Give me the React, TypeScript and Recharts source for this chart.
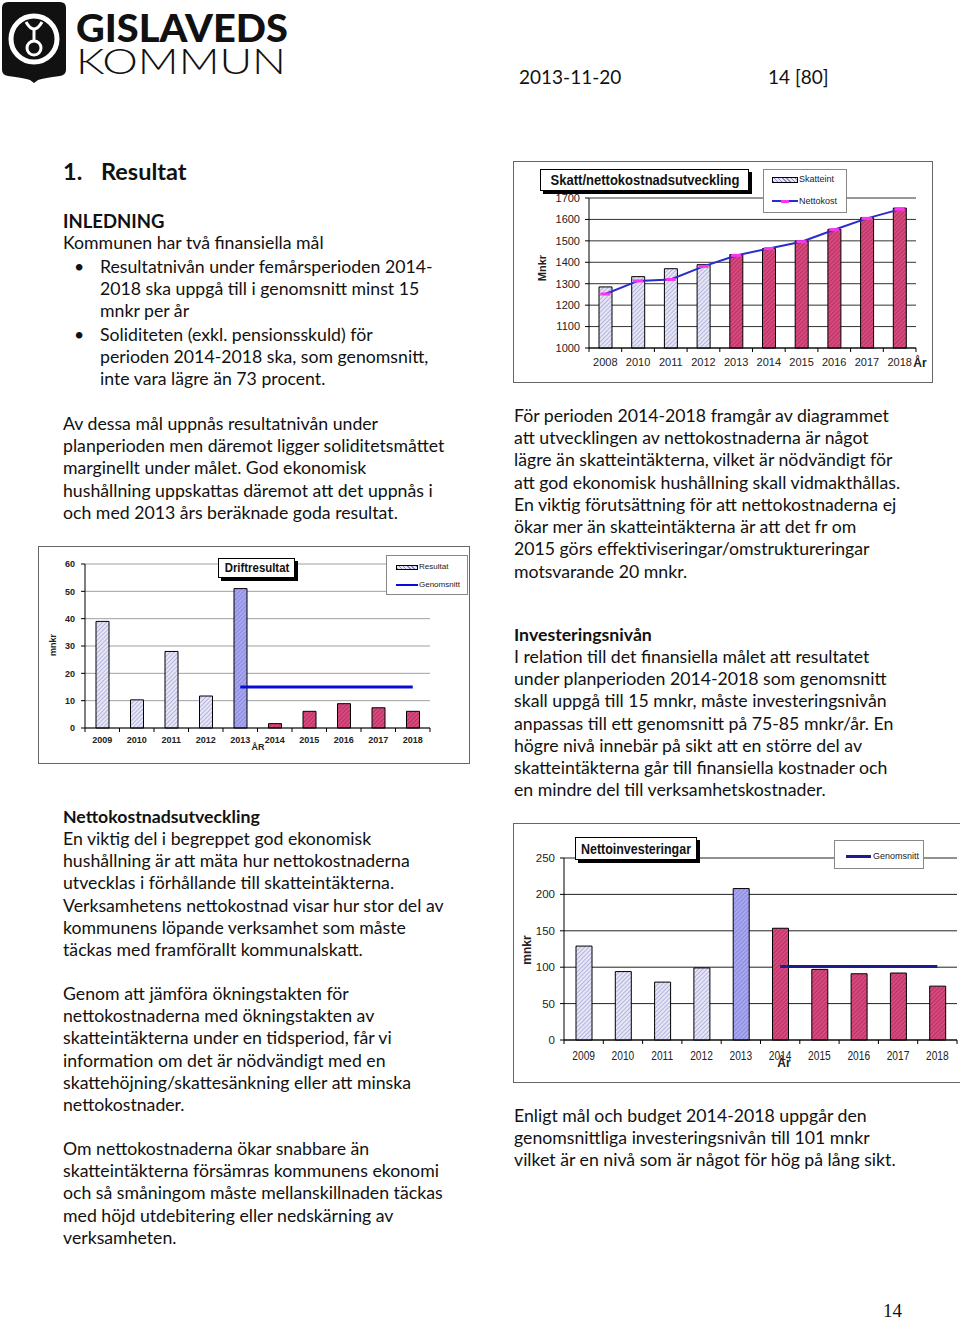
import React from 'react';
import { ComposedChart, Bar, Line, XAxis, YAxis, CartesianGrid, Cell } from 'recharts';

// ---------- DATA ----------
const skattYears = ['2008', '2010', '2011', '2012', '2013', '2014', '2015', '2016', '2017', '2018'];
const skatteint = [1285, 1333, 1370, 1389, 1436, 1464, 1499, 1554, 1608, 1653];
const nettokost = [1252, 1313, 1320, 1381, 1432, 1464, 1496, 1552, 1605, 1647];
const skattKind = ['utfall', 'utfall', 'utfall', 'utfall', 'budget', 'budget', 'budget', 'budget', 'budget', 'budget'];
const skattTicks = [1000, 1100, 1200, 1300, 1400, 1500, 1600, 1700];

const driftYears = ['2009', '2010', '2011', '2012', '2013', '2014', '2015', '2016', '2017', '2018'];
const driftResultat = [39, 10.3, 28, 11.7, 51, 1.6, 6.1, 8.9, 7.4, 6.1];
const driftSnitt = [null, null, null, null, 15, 15, 15, 15, 15, 15];
const driftKind = ['utfall', 'utfall', 'utfall', 'utfall', 'prognos', 'budget', 'budget', 'budget', 'budget', 'budget'];
const driftTicks = [0, 10, 20, 30, 40, 50, 60];

const invYears = ['2009', '2010', '2011', '2012', '2013', '2014', '2015', '2016', '2017', '2018'];
const nettoinvest = [129, 94, 79.5, 99, 208, 153.5, 97, 91, 92, 74];
const invSnitt = [null, null, null, null, null, 101, 101, 101, 101, 101];
const invKind = ['utfall', 'utfall', 'utfall', 'utfall', 'prognos', 'budget', 'budget', 'budget', 'budget', 'budget'];
const invTicks = [0, 50, 100, 150, 200, 250];

const skattData = skattYears.map((year, i) => ({ year, skatteint: skatteint[i], nettokost: nettokost[i], kind: skattKind[i] }));
const driftData = driftYears.map((year, i) => ({ year, resultat: driftResultat[i], snitt: driftSnitt[i], kind: driftKind[i] }));
const invData = invYears.map((year, i) => ({ year, invest: nettoinvest[i], snitt: invSnitt[i], kind: invKind[i] }));

// ---------- STYLE ----------
const CF = "'Liberation Sans', Arial, sans-serif";
const TF = "Lato, 'Open Sans', sans-serif";
const FS = 17.7;

const Patterns = ({ p }: { p: string }) => (
  <defs>
    <pattern id={`${p}-utfall`} width="3" height="3" patternUnits="userSpaceOnUse" patternTransform="rotate(45)">
      <rect width="3" height="3" fill="#e6e6f7" />
      <line x1="0" y1="0" x2="0" y2="3" stroke="#8c8cc8" strokeWidth="1.1" />
    </pattern>
    <pattern id={`${p}-prognos`} width="3" height="3" patternUnits="userSpaceOnUse" patternTransform="rotate(45)">
      <rect width="3" height="3" fill="#a8a8f0" />
      <line x1="0" y1="0" x2="0" y2="3" stroke="#7070d0" strokeWidth="1.1" />
    </pattern>
    <pattern id={`${p}-budget`} width="3" height="3" patternUnits="userSpaceOnUse" patternTransform="rotate(45)">
      <rect width="3" height="3" fill="#d84a7e" />
      <line x1="0" y1="0" x2="0" y2="3" stroke="#9a1f50" strokeWidth="1.1" />
    </pattern>
  </defs>
);

function makeXTick(band: number, fontSize: number, bold: boolean, offset: number, tickLen: number, sx: number) {
  return (props: any) => {
    const { x, y, payload, index } = props;
    return (
      <g>
        {tickLen > 0 && (
          <line x1={x + band / 2} x2={x + band / 2} y1={y - offset} y2={y - offset + tickLen} stroke="#000" />
        )}
        {tickLen > 0 && index === 0 && (
          <line x1={x - band / 2} x2={x - band / 2} y1={y - offset} y2={y - offset + tickLen} stroke="#000" />
        )}
        <text x={x} y={y} dy="0.71em" textAnchor="middle" fontSize={fontSize} fontWeight={bold ? 700 : 400} fill="#222" fontFamily={CF}
          transform={sx !== 1 ? `translate(${x} 0) scale(${sx} 1) translate(${-x} 0)` : undefined}>
          {payload.value}
        </text>
      </g>
    );
  };
}

const NettoDot = (props: any) => {
  const { cx, cy, index } = props;
  if (cx == null || cy == null) return <g key={index} />;
  return <rect key={index} x={cx - 5} y={cy - 1.5} width={10} height={3} fill="#ff33ee" />;
};

const abs = (left: number, top: number, extra: React.CSSProperties = {}): React.CSSProperties => ({
  position: 'absolute', left, top, ...extra,
});

const TitleBox = ({ left, top, width, height, text, fontSize, sx }: any) => (
  <div style={abs(left, top, {
    width, height, background: '#fff', border: '1px solid #000', boxShadow: '3px 3px 0 #000',
    fontFamily: CF, fontWeight: 700, fontSize, lineHeight: `${height}px`, color: '#111', whiteSpace: 'nowrap',
  })}>
    <span style={{ position: 'absolute', left: '50%', top: 0, transform: `translateX(-50%) scaleX(${sx})`, transformOrigin: 'center' }}>{text}</span>
  </div>
);

const RotLabel = ({ cx, cy, text, fontSize }: any) => (
  <div style={abs(cx - 30, cy - 8, {
    width: 60, height: 16, lineHeight: '16px', textAlign: 'center', transform: 'rotate(-90deg)',
    fontFamily: CF, fontWeight: 700, fontSize, color: '#222',
  })}>{text}</div>
);

const CenterLabel = ({ cx, cy, text, fontSize }: any) => (
  <div style={abs(cx - 20, cy - 8, {
    width: 40, height: 16, lineHeight: '16px', textAlign: 'center', fontFamily: CF, fontWeight: 700, fontSize, color: '#222',
  })}>{text}</div>
);

// ---------- CHARTS ----------
const SkattChart = () => {
  const W = 420, H = 222;
  const m = { top: 37, right: 17, bottom: 15, left: 36 };
  const yW = 40;
  const band = (W - m.left - m.right - yW) / skattData.length;
  return (
    <div style={abs(513, 161, { width: W, height: H })}>
      <div style={abs(0, 0, { width: W, height: H, border: '1px solid #666', boxSizing: 'border-box' })} />
      <div style={abs(0, 0)}>
        <ComposedChart width={W} height={H} data={skattData} margin={m}>
          <Patterns p="sk" />
          <CartesianGrid vertical={false} stroke="#333" strokeWidth={1} />
          <XAxis dataKey="year" height={20} axisLine={{ stroke: '#000' }} tickLine={false} tickSize={4} tickMargin={6}
            interval={0} tick={makeXTick(band, 11, false, 10, 4, 1)} />
          <YAxis width={yW} domain={[1000, 1700]} ticks={skattTicks} axisLine={{ stroke: '#000' }} tickLine={{ stroke: '#000' }}
            tickSize={4} tickMargin={5} tick={{ fontSize: 11, fill: '#222', fontFamily: CF }} interval={0} />
          <Bar dataKey="skatteint" barSize={13} stroke="#000" strokeWidth={1} isAnimationActive={false}>
            {skattData.map((d, i) => <Cell key={i} fill={`url(#sk-${d.kind})`} />)}
          </Bar>
          <Line dataKey="nettokost" stroke="#2a2ad0" strokeWidth={2} dot={NettoDot} activeDot={false} isAnimationActive={false} />
        </ComposedChart>
      </div>
      <TitleBox left={27} top={8} width={207} height={20} text="Skatt/nettokostnadsutveckling" fontSize={14} sx={0.93} />
      <div style={abs(250, 8, { width: 84, height: 44, background: '#fff', border: '1px solid #888', boxSizing: 'border-box' })}>
        <div style={abs(8, 7, { width: 26, height: 6, background: 'repeating-linear-gradient(45deg,#8c8cc8 0 1px,#e6e6f7 1px 3px)', border: '1px solid #000', boxSizing: 'border-box' })} />
        <div style={abs(35, 3, { fontFamily: CF, fontSize: 9, color: '#222', lineHeight: '12px' })}>Skatteint</div>
        <div style={abs(8, 30, { width: 26, height: 2, background: '#2a2ad0' })} />
        <div style={abs(17, 29.5, { width: 8, height: 3, background: '#ff33ee' })} />
        <div style={abs(35, 25, { fontFamily: CF, fontSize: 9, color: '#222', lineHeight: '12px' })}>Nettokost</div>
      </div>
      <RotLabel cx={29} cy={107} text="Mnkr" fontSize={11} />
      <CenterLabel cx={407} cy={202} text="År" fontSize={12} />
    </div>
  );
};

const DriftChart = () => {
  const W = 432, H = 218;
  const m = { top: 18, right: 40, bottom: 16, left: 17 };
  const yW = 30;
  const band = (W - m.left - m.right - yW) / driftData.length;
  return (
    <div style={abs(38, 546, { width: W, height: H })}>
      <div style={abs(0, 0, { width: W, height: H, border: '1px solid #666', boxSizing: 'border-box' })} />
      <div style={abs(0, 0)}>
        <ComposedChart width={W} height={H} data={driftData} margin={m}>
          <Patterns p="dr" />
          <CartesianGrid vertical={false} stroke="#a0a0a0" strokeWidth={1} />
          <XAxis dataKey="year" height={20} axisLine={{ stroke: '#000' }} tickLine={false} tickSize={4} tickMargin={5}
            interval={0} tick={makeXTick(band, 9, true, 9, 4, 1)} />
          <YAxis width={yW} domain={[0, 60]} ticks={driftTicks} axisLine={{ stroke: '#000' }} tickLine={{ stroke: '#000' }}
            tickSize={4} tickMargin={6} tick={{ fontSize: 9, fill: '#222', fontFamily: CF, fontWeight: 700 }} interval={0} />
          <Bar dataKey="resultat" barSize={13} stroke="#000" strokeWidth={1} isAnimationActive={false}>
            {driftData.map((d, i) => <Cell key={i} fill={`url(#dr-${d.kind})`} />)}
          </Bar>
          <Line dataKey="snitt" stroke="#0a0ad8" strokeWidth={3} dot={false} activeDot={false} isAnimationActive={false} />
        </ComposedChart>
      </div>
      <TitleBox left={180} top={12} width={75} height={18} text="Driftresultat" fontSize={12} sx={0.95} />
      <div style={abs(348, 9, { width: 82, height: 40, background: '#fff', border: '1px solid #888', boxSizing: 'border-box' })}>
        <div style={abs(9, 9, { width: 22, height: 5, background: 'repeating-linear-gradient(45deg,#8c8cc8 0 1px,#e6e6f7 1px 3px)', border: '1px solid #000', boxSizing: 'border-box' })} />
        <div style={abs(32, 5, { fontFamily: CF, fontSize: 8, color: '#222', lineHeight: '11px' })}>Resultat</div>
        <div style={abs(9, 28, { width: 22, height: 2, background: '#0a0ad8' })} />
        <div style={abs(32, 23, { fontFamily: CF, fontSize: 8, color: '#222', lineHeight: '11px' })}>Genomsnitt</div>
      </div>
      <RotLabel cx={15} cy={99} text="mnkr" fontSize={9} />
      <CenterLabel cx={220} cy={201} text="ÅR" fontSize={9} />
    </div>
  );
};

const InvChart = () => {
  const W = 450, H = 260;
  const m = { top: 35, right: 6, bottom: 18, left: 15 };
  const yW = 36;
  const band = (W - m.left - m.right - yW) / invData.length;
  return (
    <div style={abs(513, 823, { width: W, height: H })}>
      <div style={abs(0, 0, { width: W, height: H, border: '1px solid #666', boxSizing: 'border-box' })} />
      <div style={abs(0, 0)}>
        <ComposedChart width={W} height={H} data={invData} margin={m}>
          <Patterns p="iv" />
          <CartesianGrid vertical={false} stroke="#222" strokeWidth={1} />
          <XAxis dataKey="year" height={25} axisLine={{ stroke: '#000' }} tickLine={false} tickSize={4} tickMargin={7}
            interval={0} tick={makeXTick(band, 12, false, 11, 4, 0.85)} />
          <YAxis width={yW} domain={[0, 250]} ticks={invTicks} axisLine={{ stroke: '#000' }} tickLine={{ stroke: '#000' }}
            tickSize={4} tickMargin={5} tick={{ fontSize: 11.5, fill: '#222', fontFamily: CF }} interval={0} />
          <Bar dataKey="invest" barSize={16} stroke="#000" strokeWidth={1} isAnimationActive={false}>
            {invData.map((d, i) => <Cell key={i} fill={`url(#iv-${d.kind})`} />)}
          </Bar>
          <Line dataKey="snitt" stroke="#1c1c8a" strokeWidth={3} dot={false} activeDot={false} isAnimationActive={false} />
        </ComposedChart>
      </div>
      <TitleBox left={62} top={14} width={120} height={21} text="Nettoinvesteringar" fontSize={15} sx={0.83} />
      <div style={abs(321, 17, { width: 90, height: 29, background: '#fff', border: '1px solid #888', boxSizing: 'border-box' })}>
        <div style={abs(11, 14, { width: 25, height: 2.5, background: '#1c1c8a' })} />
        <div style={abs(38, 9, { fontFamily: CF, fontSize: 9, color: '#222', lineHeight: '12px' })}>Genomsnitt</div>
      </div>
      <RotLabel cx={14} cy={127} text="mnkr" fontSize={12} />
      <CenterLabel cx={271} cy={240} text="År" fontSize={12} />
    </div>
  );
};

// ---------- TEXT ----------
const LH = 22.25;
const Para = ({ x, y, lines, bold = false, size = FS }: any) => (
  <div style={abs(x, y - LH / 2, { lineHeight: `${LH}px`, fontSize: size, fontWeight: bold ? 700 : 400, whiteSpace: 'nowrap', color: '#111' })}>
    {lines.map((l: string, i: number) => <div key={i}>{l}</div>)}
  </div>
);

const Bullet = ({ y, lines }: any) => (
  <>
    <div style={abs(74, y - LH / 2, { lineHeight: `${LH}px`, fontSize: FS })}>•</div>
    <Para x={100} y={y} lines={lines} />
  </>
);

const Logo = () => (
  <svg width={300} height={90} style={abs(0, 0)}>
    <path d="M8 2 H60 Q66 2 66 8 V70 Q66 75 60 76 Q44 78 38 80 L34 83 L30 80 Q24 78 8 76 Q2 75 2 70 V8 Q2 2 8 2 Z" fill="#111" />
    <circle cx={34} cy={39} r={23} fill="none" stroke="#fff" strokeWidth={5} />
    <circle cx={34} cy={48} r={7} fill="none" stroke="#fff" strokeWidth={3} />
    <line x1={34} y1={30} x2={34} y2={41} stroke="#fff" strokeWidth={3} />
    <path d="M26 22 Q34 36 42 22" fill="none" stroke="#fff" strokeWidth={3} />
    <text fontFamily="Lato, sans-serif" fill="#111">
      <tspan x={76} y={42} fontWeight={900} fontSize={38} textLength={212} lengthAdjust="spacingAndGlyphs">GISLAVEDS</tspan>
      <tspan x={76} y={74} fontWeight={300} fontSize={36} textLength={210} lengthAdjust="spacingAndGlyphs">KOMMUN</tspan>
    </text>
  </svg>
);

export default function App() {
  return (
    <div style={{ position: 'absolute', left: 0, top: 0, width: 960, height: 1321, background: '#fff', overflow: 'hidden', fontFamily: TF, color: '#111' }}>
      <Logo />
      <div style={abs(519, 66, { fontSize: 19, lineHeight: '22px' })}>2013-11-20</div>
      <div style={abs(768, 66, { fontSize: 19, lineHeight: '22px' })}>14 [80]</div>

      <div style={abs(63, 157, { fontSize: 23.5, fontWeight: 700, lineHeight: '28px' })}>1.</div>
      <div style={abs(101, 157, { fontSize: 23.5, fontWeight: 700, lineHeight: '28px' })}>Resultat</div>

      <Para x={63} y={221} bold size={18.5} lines={['INLEDNING']} />
      <Para x={63} y={243} lines={['Kommunen har två finansiella mål']} />
      <Bullet y={267} lines={['Resultatnivån under femårsperioden 2014-', '2018 ska uppgå till i genomsnitt minst 15', 'mnkr per år']} />
      <Bullet y={335} lines={['Soliditeten (exkl. pensionsskuld) för', 'perioden 2014-2018 ska, som genomsnitt,', 'inte vara lägre än 73 procent.']} />

      <Para x={63} y={424} lines={[
        'Av dessa mål uppnås resultatnivån under',
        'planperioden men däremot ligger soliditetsmåttet',
        'marginellt under målet. God ekonomisk',
        'hushållning uppskattas däremot att det uppnås i',
        'och med 2013 års beräknade goda resultat.',
      ]} />

      <DriftChart />

      <Para x={63} y={817} bold lines={['Nettokostnadsutveckling']} />
      <Para x={63} y={839} lines={[
        'En viktig del i begreppet god ekonomisk',
        'hushållning är att mäta hur nettokostnaderna',
        'utvecklas i förhållande till skatteintäkterna.',
        'Verksamhetens nettokostnad visar hur stor del av',
        'kommunens löpande verksamhet som måste',
        'täckas med framförallt kommunalskatt.',
      ]} />
      <Para x={63} y={994} lines={[
        'Genom att jämföra ökningstakten för',
        'nettokostnaderna med ökningstakten av',
        'skatteintäkterna under en tidsperiod, får vi',
        'information om det är nödvändigt med en',
        'skattehöjning/skattesänkning eller att minska',
        'nettokostnader.',
      ]} />
      <Para x={63} y={1149} lines={[
        'Om nettokostnaderna ökar snabbare än',
        'skatteintäkterna försämras kommunens ekonomi',
        'och så småningom måste mellanskillnaden täckas',
        'med höjd utdebitering eller nedskärning av',
        'verksamheten.',
      ]} />

      <SkattChart />

      <Para x={514} y={416} lines={[
        'För perioden 2014-2018 framgår av diagrammet',
        'att utvecklingen av nettokostnaderna är något',
        'lägre än skatteintäkterna, vilket är nödvändigt för',
        'att god ekonomisk hushållning skall vidmakthållas.',
        'En viktig förutsättning för att nettokostnaderna ej',
        'ökar mer än skatteintäkterna är att det fr om',
        '2015 görs effektiviseringar/omstruktureringar',
        'motsvarande 20 mnkr.',
      ]} />
      <Para x={514} y={635} bold lines={['Investeringsnivån']} />
      <Para x={514} y={657} lines={[
        'I relation till det finansiella målet att resultatet',
        'under planperioden 2014-2018 som genomsnitt',
        'skall uppgå till 15 mnkr, måste investeringsnivån',
        'anpassas till ett genomsnitt på 75-85 mnkr/år. En',
        'högre nivå innebär på sikt att en större del av',
        'skatteintäkterna går till finansiella kostnader och',
        'en mindre del till verksamhetskostnader.',
      ]} />

      <InvChart />

      <Para x={514} y={1116} lines={[
        'Enligt mål och budget 2014-2018 uppgår den',
        'genomsnittliga investeringsnivån till 101 mnkr',
        'vilket är en nivå som är något för hög på lång sikt.',
      ]} />

      <div style={abs(883, 1300, { fontFamily: "'Liberation Serif', 'DejaVu Serif', serif", fontSize: 19, lineHeight: '22px' })}>14</div>
    </div>
  );
}
